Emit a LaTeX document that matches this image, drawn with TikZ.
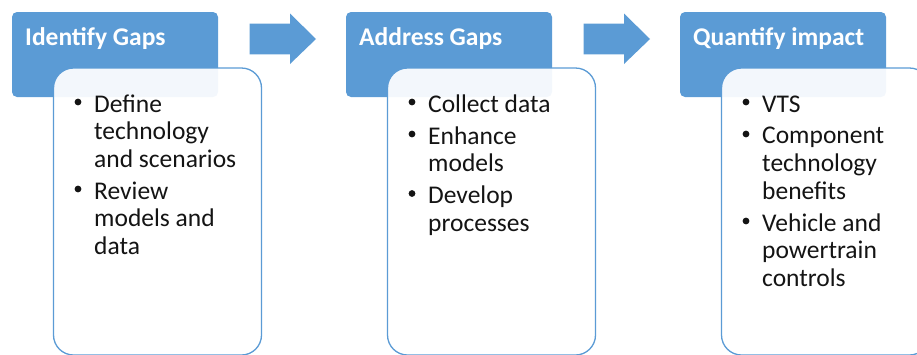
\documentclass[tikz,border=0pt]{standalone}
\usepackage{fontspec}
\setmainfont{Carlito}
\definecolor{accent}{RGB}{91,155,213}
\definecolor{txt}{RGB}{20,20,20}
\tikzset{
  x=1pt, y=-1pt,
  headbox/.style={fill=accent, rounded corners=5pt},
  listbox/.style={draw=accent, line width=1.3pt, fill=white, fill opacity=0.93, draw opacity=1, rounded corners=20pt},
  headtext/.style={anchor=base west, inner sep=0pt, text=white, font=\fontsize{25.5}{30}\selectfont\bfseries},
  itemtext/.style={anchor=base west, inner sep=0pt, align=left, text=txt, font=\fontsize{25.5}{27.7}\selectfont},
  bul/.style={circle, fill=txt, inner sep=0pt, minimum size=6.8pt},
  blockarrow/.style={fill=accent}
}
\begin{document}
\begin{tikzpicture}
\useasboundingbox (0,0) rectangle (917,354);
% block 1
\path[headbox] (12,12) rectangle (218,97);
\node[headtext] (h1) at (25,45) {Identify Gaps};
\path[listbox] (53.5,68) rectangle (261.5,355);
\node[bul] (b11) at (78,102) {};
\node[itemtext] (t11) at (94,167.4) {Define\\technology\\and scenarios};
\node[bul] (b12) at (78,189) {};
\node[itemtext] (t12) at (94,254.4) {Review\\models and\\data};
% arrow 1
\path[blockarrow] (249.5,23.5) -- (290,23.5) -- (290,13.5) -- (316,39) -- (290,64) -- (290,54.3) -- (249.5,54.3) -- cycle;
% block 2
\path[headbox] (346,12) rectangle (552,97);
\node[headtext] (h2) at (359,45) {Address Gaps};
\path[listbox] (387.5,68) rectangle (595.5,355);
\node[bul] (b21) at (412,102) {};
\node[itemtext] (t21) at (428,112) {Collect data};
\node[bul] (b22) at (412,134) {};
\node[itemtext] (t22) at (428,171.7) {Enhance\\models};
\node[bul] (b23) at (412,193.5) {};
\node[itemtext] (t23) at (428,231.2) {Develop\\processes};
% arrow 2
\path[blockarrow] (583.5,23.5) -- (624,23.5) -- (624,13.5) -- (650,39) -- (624,64) -- (624,54.3) -- (583.5,54.3) -- cycle;
% block 3
\path[headbox] (680,12) rectangle (886,97);
\node[headtext] (h3) at (693,45) {Quantify impact};
\path[listbox] (721.5,68) rectangle (929.5,355);
\node[bul] (b31) at (746,102) {};
\node[itemtext] (t31) at (762,112) {VTS};
\node[bul] (b32) at (746,134) {};
\node[itemtext] (t32) at (762,199) {Component\\technology\\benefits};
\node[bul] (b33) at (746,221) {};
\node[itemtext] (t33) at (762,286.4) {Vehicle and\\powertrain\\controls};
\end{tikzpicture}
\end{document}
